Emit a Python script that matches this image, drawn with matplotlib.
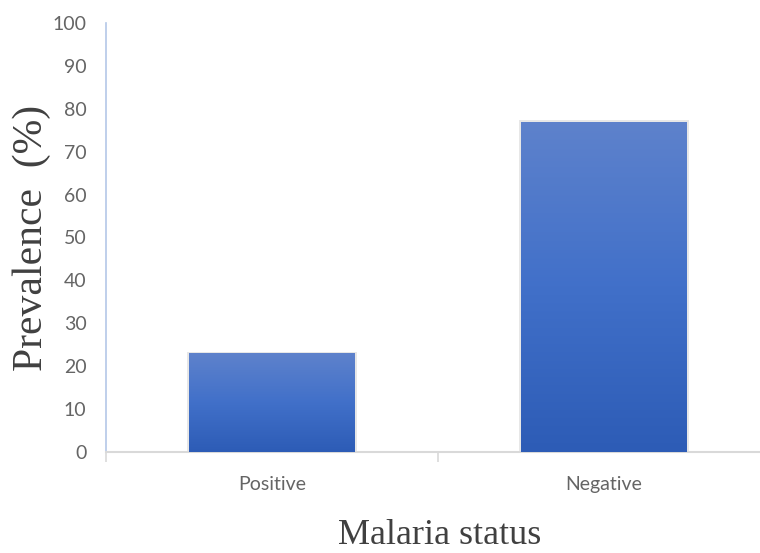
import matplotlib.pyplot as plt
import matplotlib.colors as mcolors
import numpy as np

# Prevalence of malaria by test result
categories = ['Positive', 'Negative']
prevalence = [23, 77]
yticks = [0, 10, 20, 30, 40, 50, 60, 70, 80, 90, 100]

fig = plt.figure(figsize=(7.6, 5.53), dpi=100)
ax = fig.add_axes([106 / 760, 1 - 452 / 553, 664 / 760, 429 / 553])

x = np.arange(len(categories))
bars = ax.bar(x, prevalence, width=0.5, color='none', edgecolor='none', zorder=2)

# vertical blue gradient inside each bar
grad = mcolors.LinearSegmentedColormap.from_list('bar', ['#2d5cb6', '#4170c9', '#5e82cc'])
g = np.linspace(0, 1, 256).reshape(-1, 1)
for b in bars:
    x0, y0 = b.get_x(), b.get_y()
    w, h = b.get_width(), b.get_height()
    # faint shadow around the bar
    ax.bar(x0 + w / 2, h + 0.4, width=w * 1.02, color='#d8d8d8', edgecolor='none',
           zorder=1, alpha=0.6)
    im = ax.imshow(g, cmap=grad, origin='lower', aspect='auto',
                   extent=[x0, x0 + w, y0, y0 + h], zorder=3)
    im.set_clip_path(b)

ax.set_xlim(-0.5, 1.5)
ax.set_ylim(0, 100)
ax.set_yticks(yticks)
ax.set_xticks(x)
ax.set_xticklabels(categories)
ax.set_xticks([-0.5, 0.5, 1.5], minor=True)

for lab in ax.get_yticklabels() + ax.get_xticklabels():
    lab.set_fontfamily(['Lato', 'DejaVu Sans'])
    lab.set_fontsize(14)
    lab.set_color('#656565')

ax.tick_params(axis='y', length=0, pad=14)
ax.tick_params(axis='x', which='major', length=0, pad=17)
ax.tick_params(axis='x', which='minor', length=7, width=1.2, color='#d9d9d9')

for side in ['top', 'right']:
    ax.spines[side].set_visible(False)
ax.spines['left'].set_color('#b4c7e7')
ax.spines['left'].set_linewidth(1.2)
ax.spines['bottom'].set_color('#d9d9d9')
ax.spines['bottom'].set_linewidth(1.5)

ax.set_ylabel('Prevalence  (%)', family='Liberation Serif', size=30,
              color='#404040')
ax.yaxis.set_label_coords(-(106 - 51) / 664, 0.5)
ax.set_xlabel('Malaria status', family='Liberation Serif', size=26,
              color='#404040')
ax.xaxis.set_label_coords((440 - 106) / 664, -(519 - 452) / 429)

fig.savefig('out.png', dpi=100)
